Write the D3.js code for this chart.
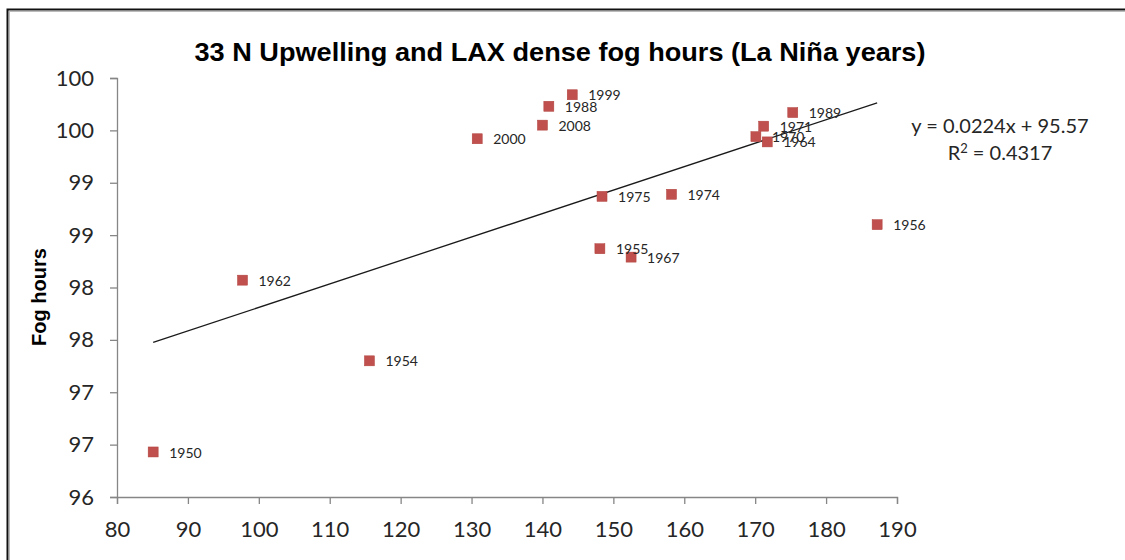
<!DOCTYPE html>
<html>
<head>
<meta charset="utf-8">
<script src="https://cdn.jsdelivr.net/npm/d3@7"></script>
<style>
  html, body { margin: 0; padding: 0; background: #fff; }
  svg { display: block; }
</style>
</head>
<body>
<svg id="chart" width="1125" height="560"></svg>
<script>
// La Niña years: 33 N upwelling index (x) vs LAX dense fog hours (y)
const years = ["1950", "1954", "1962", "2000", "2008", "1988", "1999", "1975", "1955",
               "1967", "1974", "1970", "1971", "1964", "1989", "1956"];
const upwelling = [85.1, 115.6, 97.7, 130.8, 140.0, 140.9, 144.2, 148.4, 148.1,
                   152.5, 158.2, 170.1, 171.2, 171.7, 175.3, 187.2];
const fogHours = [96.43, 97.30, 98.07, 99.42, 99.55, 99.73, 99.84, 98.87, 98.37,
                  98.29, 98.89, 99.44, 99.54, 99.39, 99.67, 98.60];

// Linear trendline y = slope * x + intercept
const slope = 0.0224;
const intercept = 95.57;
const r2 = "0.4317";

const xTicks = [80, 90, 100, 110, 120, 130, 140, 150, 160, 170, 180, 190];
const yTicks = [96, 96.5, 97, 97.5, 98, 98.5, 99, 99.5, 100];
const yTickLabels = ["96", "97", "97", "98", "98", "99", "99", "100", "100"];

const svg = d3.select("#chart");
const tickFont = "Lato, 'Open Sans', sans-serif";
const boldFont = "'Liberation Sans', Arial, sans-serif";

// Outer frame
svg.append("rect").attr("x", 7.5).attr("y", 9.5).attr("width", 1140).attr("height", 600)
  .attr("fill", "none").attr("stroke", "#111").attr("stroke-width", 2);
svg.append("rect").attr("x", 9.5).attr("y", 11.5).attr("width", 1140).attr("height", 600)
  .attr("fill", "none").attr("stroke", "#bbb").attr("stroke-width", 1);

const x = d3.scaleLinear().domain([80, 190]).range([117, 897]);
const y = d3.scaleLinear().domain([96, 100]).range([497, 78]);

// Y axis
const yAxis = svg.append("g").attr("transform", `translate(${x(80)},0)`)
  .call(d3.axisLeft(y).tickValues(yTicks).tickSize(7).tickPadding(16)
    .tickFormat((d, i) => yTickLabels[i]));
// X axis
const xAxis = svg.append("g").attr("transform", `translate(0,${y(96)})`)
  .call(d3.axisBottom(x).tickValues(xTicks).tickSize(7).tickPadding(17));

[yAxis, xAxis].forEach(g => {
  g.select(".domain").attr("stroke", "#868686").attr("stroke-width", 1.3);
  g.selectAll(".tick line").attr("stroke", "#868686").attr("stroke-width", 1.3);
  g.selectAll(".tick text").attr("fill", "#262626")
    .style("font-family", tickFont).style("font-size", "22px");
});
xAxis.selectAll(".tick text").attr("dy", "0.72em");

// Trendline across the data range
const xMin = d3.min(upwelling), xMax = d3.max(upwelling);
svg.append("line")
  .attr("x1", x(xMin)).attr("y1", y(slope * xMin + intercept))
  .attr("x2", x(xMax)).attr("y2", y(slope * xMax + intercept))
  .attr("stroke", "#1a1a1a").attr("stroke-width", 1.3);

// Points
const pts = years.map((yr, i) => ({ yr, u: upwelling[i], f: fogHours[i] }));
svg.append("g").selectAll("rect").data(pts).join("rect")
  .attr("x", d => x(d.u) - 5).attr("y", d => y(d.f) - 5)
  .attr("width", 10).attr("height", 10)
  .attr("fill", "#c0504d").attr("stroke", "#b0403d").attr("stroke-width", 0.5);

// Year labels
svg.append("g").selectAll("text").data(pts).join("text")
  .attr("x", d => x(d.u) + 16).attr("y", d => y(d.f) + 2)
  .attr("dominant-baseline", "middle")
  .style("font-family", tickFont).style("font-size", "14px").attr("fill", "#262626")
  .text(d => d.yr);

// Trendline equation
svg.append("text").attr("text-anchor", "middle").attr("x", 1000).attr("y", 133)
  .style("font-family", tickFont).style("font-size", "20px").attr("fill", "#262626")
  .text(`y = ${slope}x + ${intercept}`);
const r = svg.append("text").attr("text-anchor", "middle").attr("x", 1000).attr("y", 160)
  .style("font-family", tickFont).style("font-size", "20px").attr("fill", "#262626");
r.append("tspan").text("R");
r.append("tspan").attr("dy", -7).style("font-size", "13px").text("2");
r.append("tspan").attr("dy", 7).text(` = ${r2}`);

// Title
svg.append("text").attr("x", 560).attr("y", 61).attr("text-anchor", "middle")
  .attr("textLength", 731).attr("lengthAdjust", "spacingAndGlyphs")
  .style("font-family", boldFont).style("font-weight", "bold")
  .style("font-size", "26px").attr("fill", "#000")
  .text("33 N  Upwelling and LAX dense fog hours (La Niña years)");

// Y axis title
svg.append("text").attr("transform", "translate(46,297) rotate(-90)").attr("text-anchor", "middle")
  .style("font-family", boldFont).style("font-weight", "bold")
  .style("font-size", "20px").attr("fill", "#000")
  .text("Fog hours");
</script>
</body>
</html>
